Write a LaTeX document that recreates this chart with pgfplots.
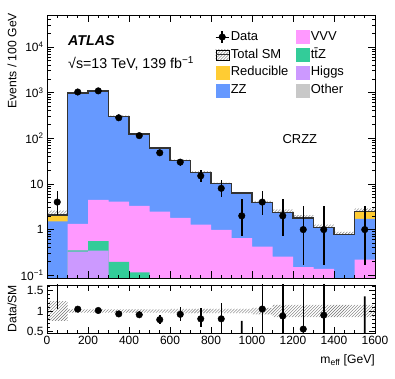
\documentclass[border=0pt]{standalone}
\usepackage{fontspec}
\setmainfont{Liberation Sans}
\usepackage{pgfplots}
\usepackage{pgfplotstable}
\pgfplotsset{compat=1.18}
\usepgfplotslibrary{fillbetween}
\usetikzlibrary{patterns}

\definecolor{zzblue}{RGB}{102,153,255}
\definecolor{vvvpink}{RGB}{255,153,255}
\definecolor{ttzgreen}{RGB}{51,204,153}
\definecolor{higgspurple}{RGB}{204,153,255}
\definecolor{redyellow}{RGB}{255,204,51}
\definecolor{othergray}{RGB}{200,200,200}

% cumulative stack heights per bin (lower edge x), 1e-3 rows close the fills
\pgfplotstableread{
x    total  zz     vvv    ttz    higgs  other  unc
0    0.001  0.001  0.001  0.001  0.001  0.001  0
0    2.1    1.52   0.08   0.06   0.05   0.04   0.24
100  985    985    1.33   0.35   0.33   0.05   0.04
200  1075   1075   4.47   0.555  0.345  0.05   0.04
300  302    302    4.1    0.196  0.07   0.04   0.04
400  125    125    3.3    0.116  0.05   0.04   0.04
500  61     61     2.48   0.07   0.05   0.04   0.04
600  32.5   32.5   1.8    0.06   0.05   0.04   0.05
700  18     18     1.29   0.05   0.04   0.03   0.05
800  10.2   10.2   0.99   0.05   0.04   0.03   0.05
900  6.3    6.3    0.65   0.05   0.04   0.03   0.05
1000 3.95   3.95   0.425  0.05   0.04   0.03   0.08
1100 2.4    2.4    0.256  0.04   0.03   0.02   0.15
1200 1.8    1.8    0.15   0.04   0.03   0.02   0.15
1300 1.12   1.12   0.138  0.04   0.03   0.02   0.15
1400 0.77   0.77   0.085  0.04   0.03   0.02   0.15
1500 2.5    1.71   0.22   0.04   0.03   0.02   0.15
1600 2.5    1.71   0.22   0.04   0.03   0.02   0.15
1600 0.001  0.001  0.001  0.001  0.001  0.001  0
}\bkg

\pgfplotstableread{
x    y     ep    em
50   4     3.16  1.91
150  1030  32    32
250  1090  33    33
350  281   16.8  16.8
450  114   10.7  10.7
550  48    6.9   6.9
650  30    5.5   5.5
750  15    4.95  3.83
850  8     3.94  2.76
950  2     2.64  1.29
1050 4     3.16  1.91
1150 2     2.64  1.29
1250 1     2.30  0.83
1350 1     2.30  0.83
1550 1     2.30  0.83
}\data

% data/SM inside the panel
\pgfplotstableread{
x    r     ep    em
50   1.9   1.5   0.86
150  1.046 0.033 0.033
250  1.014 0.031 0.031
350  0.93  0.056 0.056
450  0.91  0.086 0.086
550  0.79  0.11  0.11
650  0.92  0.17  0.17
750  0.81  0.27  0.21
850  0.81  0.39  0.27
1050 1.05  0.8   0.5
1150 0.88  1.1   0.55
1250 0.56  1.3   0.46
1350 0.9   2.05  0.74
}\ratio

% Data/SM below the panel (0.32 and 0.4): upper end of their bars
\pgfplotstableread{
x    top
950  0.76
1550 1.36
}\low

\newcommand\legbox[1]{\addlegendimage{legend image code/.code={\fill[#1] (0bp,-6.5bp) rectangle (13bp,6.5bp);}}}
\newcommand\labfont{\fontsize{12.2}{14}\selectfont}

\pgfplotsset{
  atlas/.style={
    scale only axis, width=328bp,
    xmin=0, xmax=1600,
    axis on top,
    tick align=inside, xtick pos=both, ytick pos=both,
    axis line style={line width=0.9bp},
    tick style={black, line width=0.6bp},
    xtick={0,200,...,1600}, minor x tick num=3,
    tick label style={font=\fontsize{12}{14}\selectfont},
  },
}

\begin{document}
\begin{tikzpicture}
\path (0,0) rectangle (395bp,379bp);

\begin{axis}[atlas,
  at={(47bp,101bp)}, anchor=south west, height=263bp,
  ymode=log, ymin=0.087, ymax=5e4,
  major tick length=7bp, minor tick length=3.5bp,
  xticklabels={},
  ytick={0.1,1,10,100,1000,10000},
  yticklabels={10\textsuperscript{−1},1,10,10\textsuperscript{2},10\textsuperscript{3},10\textsuperscript{4}},
  minor ytick={0.2,0.3,0.4,0.5,0.6,0.7,0.8,0.9,2,3,4,5,6,7,8,9,20,30,40,50,60,70,80,90,200,300,400,500,600,700,800,900,2000,3000,4000,5000,6000,7000,8000,9000,20000,30000,40000},
  ylabel={Events / 100 GeV},
  every axis y label/.style={at={(axis description cs:-0.1067,1.008)}, rotate=90, anchor=east, inner sep=0pt, font=\labfont},
  legend columns=2, legend cell align=left,
  legend style={at={(axis description cs:0.512,0.9466)}, anchor=north west,
    draw=none, fill=none, inner sep=0pt,
    font=\fontsize{13}{15}\selectfont,
    row sep=2.3bp, column sep=0pt,
    nodes={inner sep=1.5bp, text height=9.5bp, text depth=3bp},
    /tikz/every even column/.append style={column sep=6bp}},
]
\addplot[const plot, fill=redyellow, draw=none, forget plot] table[x=x, y=total] {\bkg};
\addplot[const plot, fill=zzblue, draw=none, forget plot] table[x=x, y=zz] {\bkg};
\addplot[const plot, fill=vvvpink, draw=none, forget plot] table[x=x, y=vvv] {\bkg};
\addplot[const plot, fill=ttzgreen, draw=none, forget plot] table[x=x, y=ttz] {\bkg};
\addplot[const plot, fill=higgspurple, draw=none, forget plot] table[x=x, y=higgs] {\bkg};
\addplot[const plot, fill=othergray, draw=none, forget plot] table[x=x, y=other] {\bkg};

\addplot[name path=up, const plot, draw=none, forget plot] table[x=x, y expr=\thisrow{total}*(1+\thisrow{unc})] {\bkg};
\addplot[name path=dn, const plot, draw=none, forget plot] table[x=x, y expr=\thisrow{total}*(1-\thisrow{unc})] {\bkg};
\addplot[pattern=north east lines, pattern color=black!55, draw=none, forget plot] fill between[of=up and dn];

\addplot[const plot, draw=black!80, line width=1.4bp, forget plot,
  skip coords between index={0}{1}, skip coords between index={18}{19}] table[x=x, y=total] {\bkg};

\addplot[only marks, mark=*, mark size=3.3bp, black, forget plot,
  error bars/.cd, y dir=both, y explicit, error mark=none,
  error bar style={line width=1.5bp}]
  table[x=x, y=y, y error plus=ep, y error minus=em] {\data};

\addlegendimage{legend image code/.code={\draw[line width=1.5bp] (6.5bp,-6bp)--(6.5bp,6bp); \fill (6.5bp,0bp) circle (3.3bp); \path (0bp,0bp)--(13bp,0bp);}}
\addlegendentry{Data}
\legbox{vvvpink}
\addlegendentry{VVV}
\addlegendimage{legend image code/.code={\fill[pattern=north east lines, pattern color=black!60] (0bp,-5bp) rectangle (13bp,5bp); \draw[black!80, line width=1.2bp] (0bp,0bp)--(13bp,0bp);}}
\addlegendentry{Total SM}
\legbox{ttzgreen}
\addlegendentry{t\={t}Z}
\legbox{redyellow}
\addlegendentry{Reducible}
\legbox{higgspurple}
\addlegendentry{Higgs}
\legbox{zzblue}
\addlegendentry{ZZ}
\legbox{othergray}
\addlegendentry{Other}

\node[anchor=base west, inner sep=0pt, font=\fontsize{14.3}{16}\selectfont\bfseries\itshape] at (rel axis cs:0.064,0.8855) {ATLAS};
\node[anchor=base west, inner sep=0pt, font=\fontsize{14.3}{16}\selectfont] at (rel axis cs:0.064,0.7966) {√s=13 TeV, 139 fb\textsuperscript{−1}};
\node[anchor=base, inner sep=0pt, font=\fontsize{13}{15}\selectfont] at (rel axis cs:0.771,0.5126) {CRZZ};
\end{axis}

\begin{axis}[atlas,
  at={(47bp,46bp)}, anchor=south west, height=48bp,
  ymin=0.465, ymax=1.635,
  major tick length=6bp, minor tick length=3bp,
  xticklabels={0,200,400,600,800,1000,1200,1400,1600},
  ytick={0.5,1,1.5}, yticklabels={0.5,1,1.5},
  minor ytick={0.6,0.7,0.8,0.9,1.1,1.2,1.3,1.4,1.6},
  ylabel={Data/SM},
  every axis y label/.style={at={(axis description cs:-0.1067,1)}, rotate=90, anchor=east, inner sep=0pt, font=\labfont},
  xlabel={m\textsubscript{eff} [GeV]},
  every axis x label/.style={at={(axis description cs:1,-0.63)}, anchor=base east, inner sep=0pt, font=\labfont},
]
\addplot[name path=rup, const plot, draw=none, forget plot] table[x=x, y expr=1+\thisrow{unc}] {\bkg};
\addplot[name path=rdn, const plot, draw=none, forget plot] table[x=x, y expr=1-\thisrow{unc}] {\bkg};
\addplot[pattern=north east lines, pattern color=black!55, draw=none, forget plot] fill between[of=rup and rdn];

\addplot[only marks, mark=*, mark size=3.3bp, black, forget plot,
  error bars/.cd, y dir=both, y explicit, error mark=none,
  error bar style={line width=1.5bp}]
  table[x=x, y=r, y error plus=ep, y error minus=em] {\ratio};

% bars of the two points that fall below the panel, as thin filled columns
\addplot[ybar, bar width=1.6bp, bar shift=0pt, fill=black, draw=none, forget plot]
  table[x=x, y=top] {\low};
\end{axis}
\end{tikzpicture}
\end{document}
